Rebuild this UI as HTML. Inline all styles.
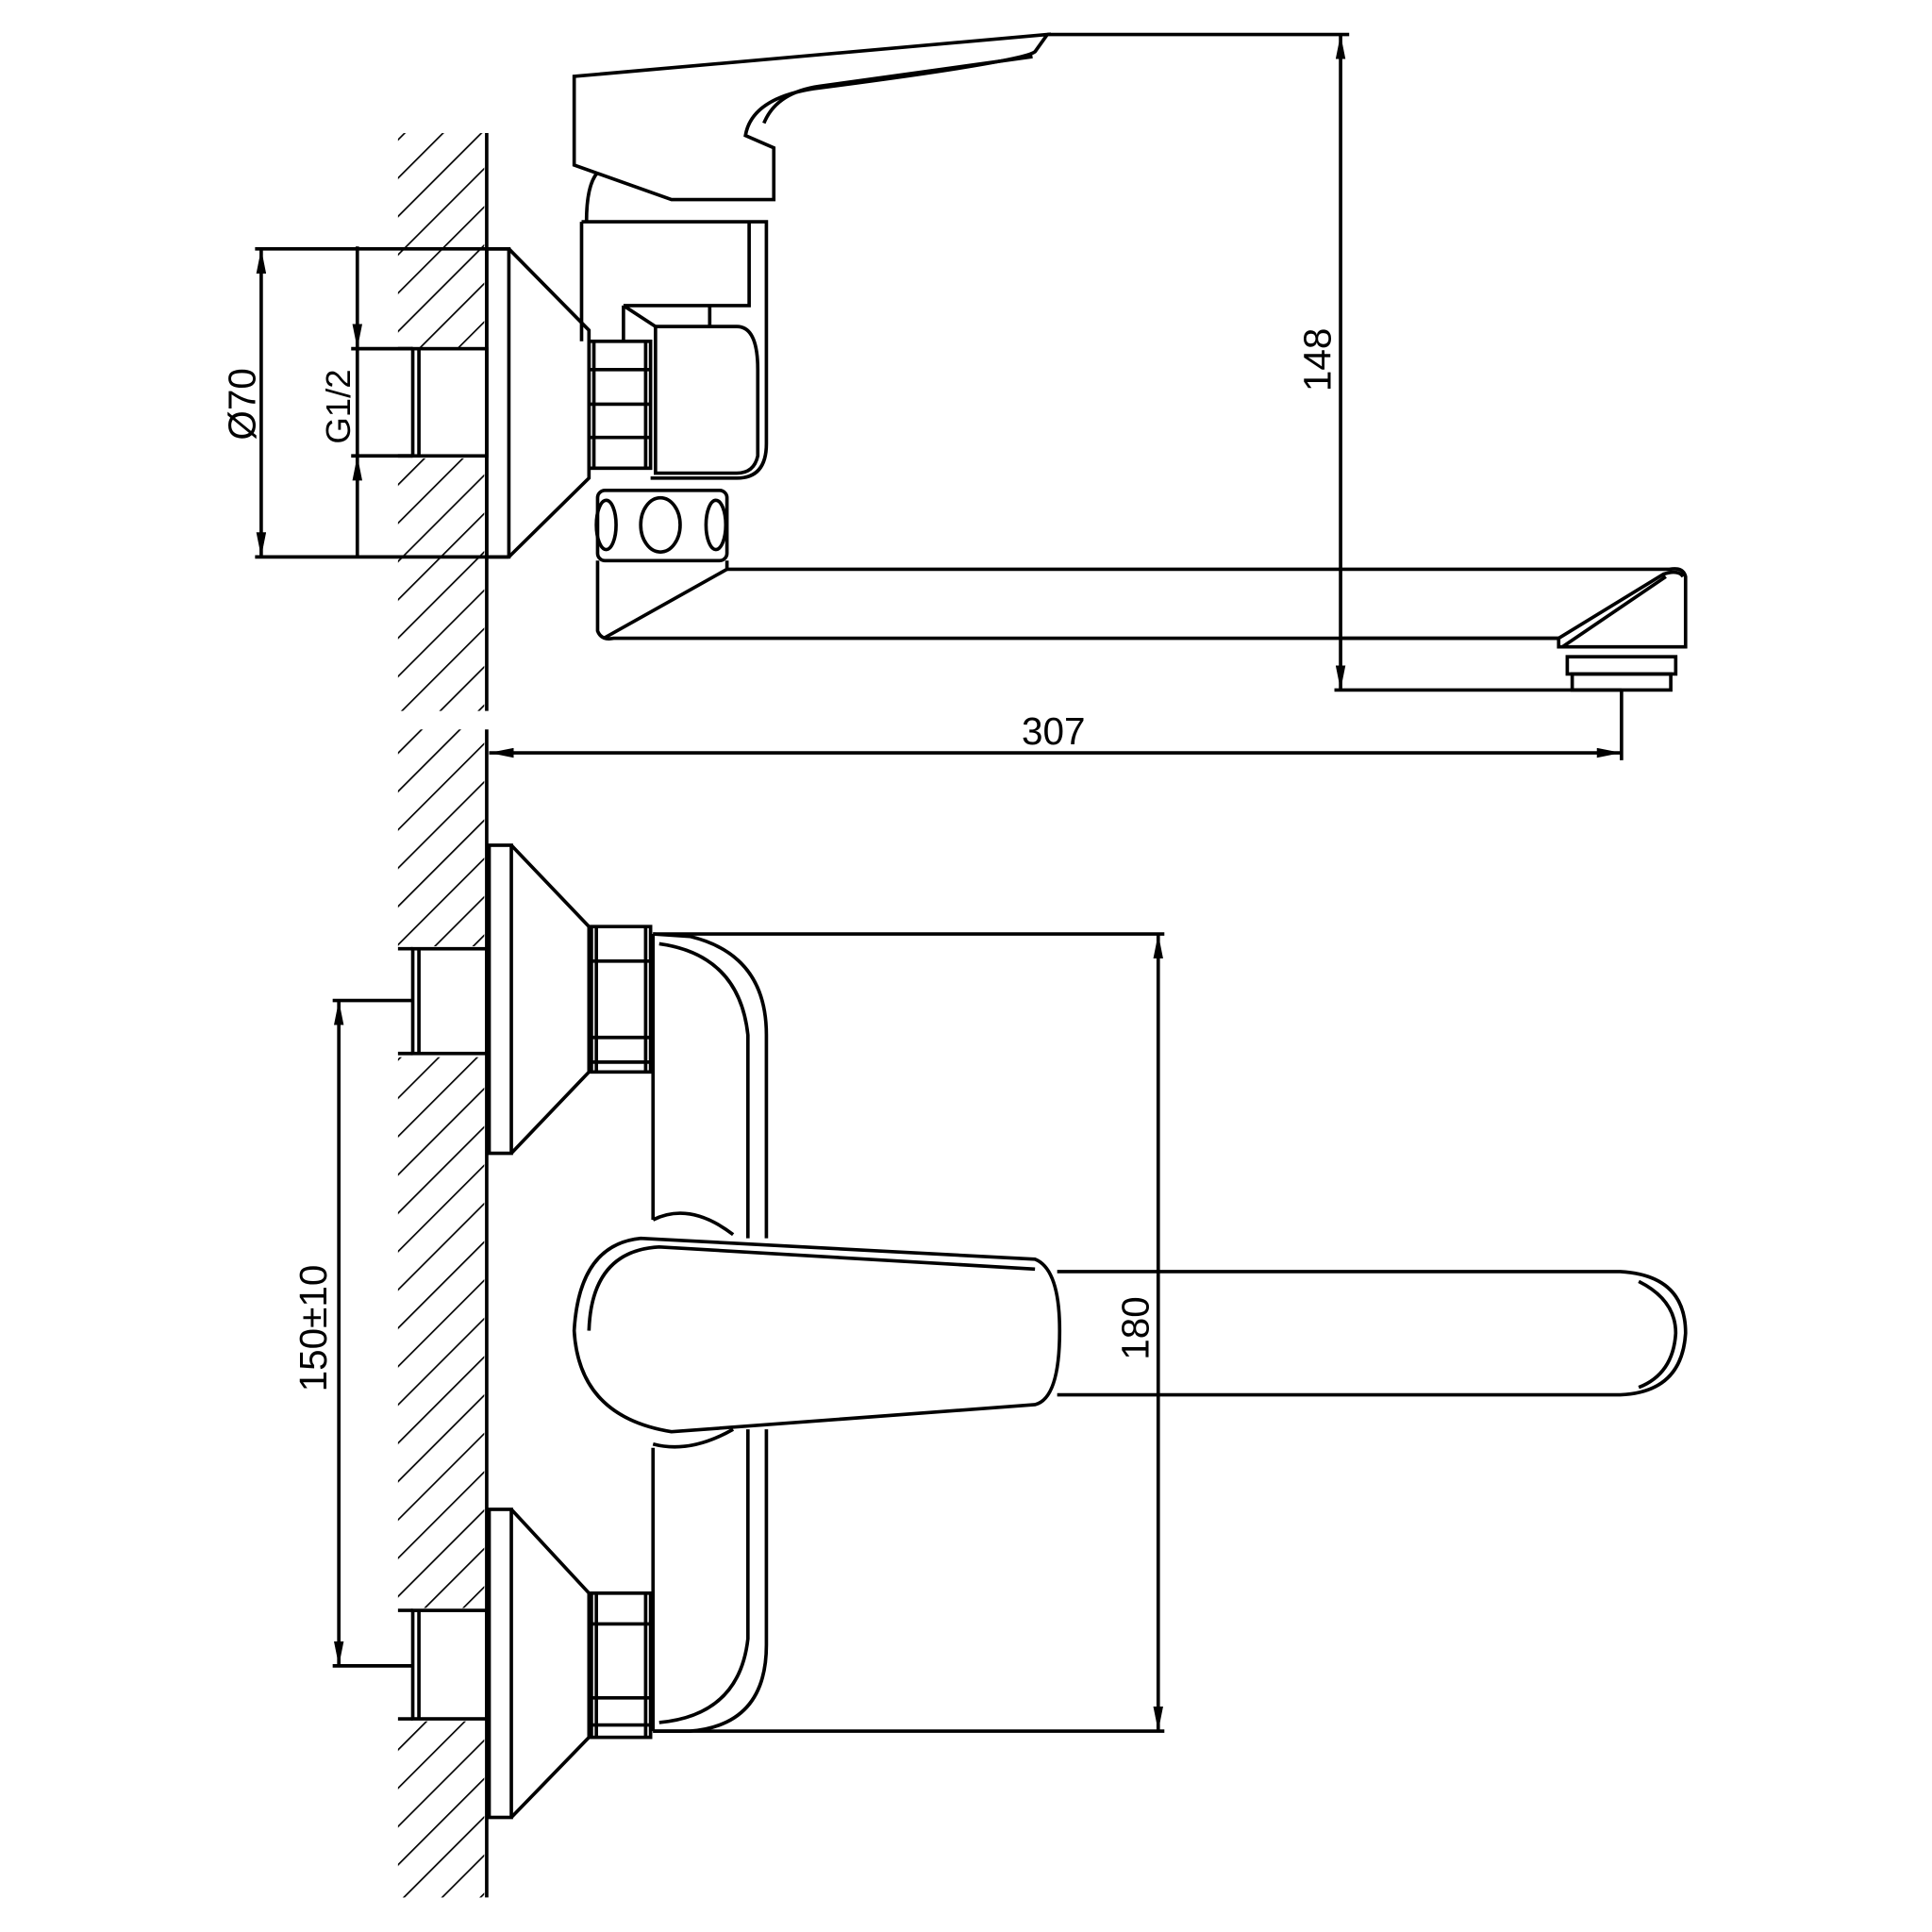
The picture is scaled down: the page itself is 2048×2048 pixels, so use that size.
<!DOCTYPE html>
<html><head><meta charset="utf-8"><style>
html,body{margin:0;padding:0;background:#fff;}
svg{display:block;}
text{font-family:"Liberation Sans",sans-serif;font-size:31px;fill:#000;}
</style></head><body>
<svg width="2048" height="2048" viewBox="0 0 1568 1568" xmlns="http://www.w3.org/2000/svg">
<defs>
<pattern id="h" patternUnits="userSpaceOnUse" width="22" height="22" patternTransform="rotate(45)">
<line x1="0" y1="0" x2="0" y2="22" stroke="#000" stroke-width="2.6"/>
</pattern>
<marker id="a" viewBox="0 0 20 8" refX="20" refY="4" markerWidth="20" markerHeight="8" markerUnits="userSpaceOnUse" orient="auto-start-reverse"><path d="M0,0 L20,4 L0,8z" fill="#000"/></marker>
</defs>
<g fill="none" stroke="#000" stroke-width="2.8">
<rect x="323" y="108" width="70" height="469" fill="url(#h)" stroke="none"/>
<rect x="323" y="592" width="70" height="948" fill="url(#h)" stroke="none"/>
<rect x="322" y="282" width="73" height="90" fill="#fff" stroke="none"/>
<rect x="322" y="768" width="73" height="90" fill="#fff" stroke="none"/>
<rect x="322" y="1305" width="73" height="92" fill="#fff" stroke="none"/>
<line x1="395" y1="108" x2="395" y2="577"/>
<line x1="395" y1="592" x2="395" y2="1540"/>

<rect x="395" y="202" width="18" height="250"/>
<path d="M413,202 L478,268 L478,388 L413,452"/>
<rect x="335" y="283" width="60" height="87"/>
<line x1="340" y1="283" x2="340" y2="370"/>
<line x1="323" y1="283" x2="335" y2="283"/><line x1="323" y1="370" x2="335" y2="370"/>
<rect x="478" y="277" width="50" height="103"/>
<path d="M482,277 L482,380 M524,277 L524,380 M478,300 L528,300 M478,328 L528,328 M478,355 L528,355"/>
<path d="M472,180 L622,180 L622,360 Q622,388 598,388 L528,388"/>
<path d="M472,180 L472,277 M476,180 Q476,150 485,140"/>
<path d="M506,248 L608,248 L608,180 M506,248 L506,277 M532,265 L598,265 Q615,265 615,300 L615,370 Q612,384 598,384 L532,384 L532,265"/>
<path d="M506,248 L532,265 M576,248 L576,265"/>
<path d="M466,62 L850,28 L840,42 Q830,50 660,72 Q610,80 605,110 L628,120 L628,162 L545,162 L466,134 Z"/>
<path d="M620,100 Q630,75 665,70 L838,46"/>
<rect x="485" y="398" width="105" height="57" rx="6"/>
<ellipse cx="492" cy="426" rx="8" ry="20"/>
<ellipse cx="536" cy="426" rx="16" ry="22"/>
<ellipse cx="581" cy="426" rx="8" ry="20"/>
<path d="M485,455 L485,512 Q488,520 498,518 L1265,518 L1265,525 L1368,525 L1368,468 Q1366,460 1355,462 L590,462 L590,455"/>
<path d="M590,462 L490,518 M1265,518 L1350,466 Q1362,462 1366,468 M1268,525 L1352,468"/>
<rect x="1272" y="533" width="88" height="14"/>
<rect x="1276" y="547" width="80" height="13"/>
<line x1="207" y1="202" x2="413" y2="202"/>
<line x1="207" y1="452" x2="413" y2="452"/>
<line x1="212" y1="202" x2="212" y2="452" marker-start="url(#a)" marker-end="url(#a)"/>
<line x1="285" y1="283" x2="335" y2="283"/>
<line x1="285" y1="370" x2="335" y2="370"/>
<line x1="290" y1="200" x2="290" y2="283" marker-end="url(#a)"/>
<line x1="290" y1="283" x2="290" y2="370"/>
<line x1="290" y1="452" x2="290" y2="370" marker-end="url(#a)"/>
<line x1="850" y1="28" x2="1095" y2="28"/>
<line x1="1083" y1="560" x2="1316" y2="560"/>
<line x1="1088" y1="28" x2="1088" y2="560" marker-start="url(#a)" marker-end="url(#a)"/>
<line x1="1088" y1="518" x2="1265" y2="518"/>
<line x1="1316" y1="560" x2="1316" y2="617"/>
<line x1="397" y1="611" x2="1316" y2="611" marker-start="url(#a)" marker-end="url(#a)"/>

<rect x="397" y="686" width="18" height="250"/>
<path d="M415,686 L478,752 L478,870 L415,936"/>
<rect x="480" y="752" width="48" height="118"/>
<path d="M484,752 L484,870 M524,752 L524,870 M480,780 L528,780 M480,842 L528,842 M480,862 L528,862"/>
<rect x="335" y="770" width="60" height="85"/>
<line x1="340" y1="770" x2="340" y2="855"/>
<line x1="323" y1="770" x2="335" y2="770"/><line x1="323" y1="855" x2="335" y2="855"/>
<rect x="397" y="1225" width="18" height="250"/>
<path d="M415,1225 L478,1293 L478,1410 L415,1475"/>
<rect x="480" y="1293" width="48" height="117"/>
<path d="M484,1293 L484,1410 M524,1293 L524,1410 M480,1318 L528,1318 M480,1378 L528,1378 M480,1400 L528,1400"/>
<rect x="335" y="1307" width="60" height="88"/>
<line x1="340" y1="1307" x2="340" y2="1395"/>
<line x1="323" y1="1307" x2="335" y2="1307"/><line x1="323" y1="1395" x2="335" y2="1395"/>
<path d="M530,758 L560,760 Q622,775 622,840 L622,1005"/>
<path d="M535,766 Q600,775 607,840 L607,1005"/>
<path d="M622,1160 L622,1335 Q622,1400 560,1405 L530,1405"/>
<path d="M607,1160 L607,1330 Q600,1392 535,1398"/>
<line x1="530" y1="758" x2="530" y2="990"/>
<line x1="530" y1="1175" x2="530" y2="1405"/>
<path d="M530,990 Q560,975 595,1002"/>
<path d="M530,1172 Q560,1180 595,1160"/>
<path d="M520,1005 L840,1022 Q860,1030 860,1080 Q860,1135 840,1140 L545,1162 Q470,1150 466,1080 Q470,1010 520,1005 Z"/>
<path d="M478,1080 Q480,1015 535,1012 L840,1030"/>
<path d="M858,1032 L1315,1032 Q1368,1035 1368,1082 Q1365,1130 1315,1132 L858,1132"/>
<path d="M1330,1040 Q1360,1055 1360,1082 Q1358,1115 1330,1126"/>
<line x1="530" y1="758" x2="945" y2="758"/>
<line x1="530" y1="1405" x2="945" y2="1405"/>
<line x1="940" y1="758" x2="940" y2="1405" marker-start="url(#a)" marker-end="url(#a)"/>
<line x1="270" y1="812" x2="335" y2="812"/>
<line x1="270" y1="1352" x2="335" y2="1352"/>
<line x1="275" y1="812" x2="275" y2="1352" marker-start="url(#a)" marker-end="url(#a)"/>
</g>
<text x="855" y="604" text-anchor="middle">307</text>
<text transform="translate(1080,292) rotate(-90)" text-anchor="middle">148</text>
<text transform="translate(207,328) rotate(-90)" text-anchor="middle">Ø70</text>
<text transform="translate(284,330) rotate(-90)" text-anchor="middle" style="font-size:28px">G1/2</text>
<text transform="translate(932,1078) rotate(-90)" text-anchor="middle">180</text>
<text transform="translate(265,1078) rotate(-90)" text-anchor="middle">150±10</text>
</svg>
</body></html>
